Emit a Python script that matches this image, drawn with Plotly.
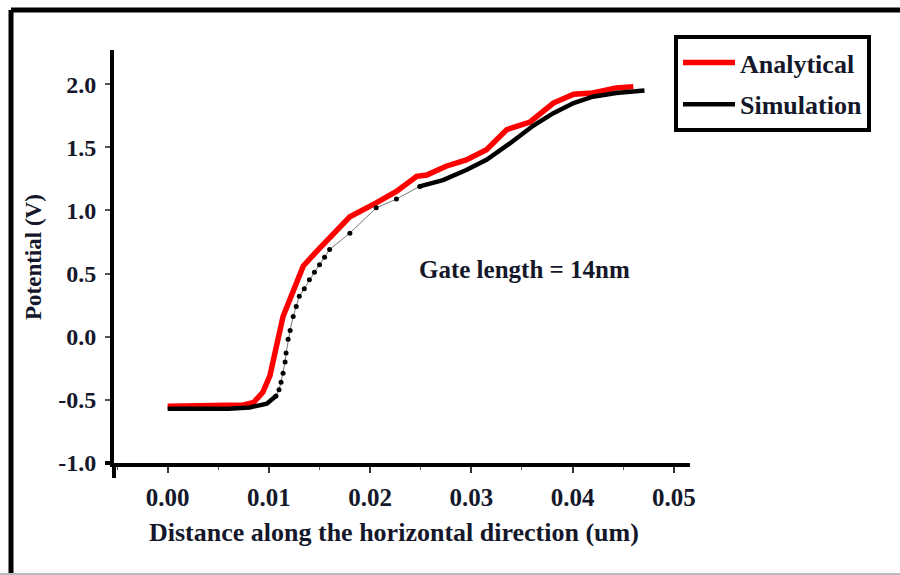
import plotly.graph_objects as go

# ---- data ----
ana_x = [0.0, 0.002, 0.004, 0.006, 0.0075, 0.0085, 0.0094, 0.0101, 0.0107, 0.0114,
         0.0121, 0.0134, 0.0150, 0.0165, 0.0180, 0.0206, 0.0226, 0.0246, 0.0256,
         0.0275, 0.0295, 0.0315, 0.0335, 0.0358, 0.0381, 0.0401, 0.0420, 0.0443, 0.0460]
ana_y = [-0.55, -0.55, -0.55, -0.55, -0.54, -0.52, -0.44, -0.31, -0.10, 0.16,
         0.30, 0.56, 0.70, 0.83, 0.95, 1.06, 1.15, 1.27, 1.28,
         1.35, 1.40, 1.48, 1.64, 1.70, 1.85, 1.92, 1.93, 1.97, 1.98]

sim_x = [0.0, 0.002, 0.004, 0.006, 0.0081, 0.0098, 0.0107, 0.0110, 0.0112, 0.0114,
         0.0116, 0.0117, 0.0119, 0.0121, 0.0124, 0.0127, 0.0130, 0.0135, 0.0140,
         0.0145, 0.0150, 0.0155, 0.0160, 0.0180, 0.0206, 0.0226, 0.0249, 0.0272,
         0.0295, 0.0315, 0.0338, 0.0361, 0.0381, 0.0401, 0.0420, 0.0443, 0.0471]
sim_y = [-0.57, -0.57, -0.57, -0.57, -0.56, -0.53, -0.47, -0.42, -0.36, -0.29,
         -0.20, -0.13, -0.02, 0.05, 0.16, 0.24, 0.32, 0.38, 0.45,
         0.51, 0.57, 0.63, 0.69, 0.82, 1.02, 1.09, 1.19, 1.24,
         1.32, 1.40, 1.53, 1.67, 1.77, 1.85, 1.90, 1.93, 1.95]

x_ticks = [0.00, 0.01, 0.02, 0.03, 0.04, 0.05]
x_tick_text = ["0.00", "0.01", "0.02", "0.03", "0.04", "0.05"]
y_ticks = [-1.0, -0.5, 0.0, 0.5, 1.0, 1.5, 2.0]
y_tick_text = ["-1.0", "-0.5", "0.0", "0.5", "1.0", "1.5", "2.0"]

# split simulation into thick-line part and dotted part
DOT_START, DOT_END = 6, 26
thick_y = [y if (i <= DOT_START or i >= DOT_END) else None for i, y in enumerate(sim_y)]
dot_x = sim_x[DOT_START:DOT_END + 1]
dot_y = sim_y[DOT_START:DOT_END + 1]

SERIF = "Liberation Serif"
TXT = "#15182a"

fig = go.Figure()
fig.add_trace(go.Scatter(x=ana_x, y=ana_y, mode="lines", name="Analytical",
                         line=dict(color="#ff0000", width=5.5), legendgroup="a"))
fig.add_trace(go.Scatter(x=sim_x, y=thick_y, mode="lines", name="Simulation",
                         line=dict(color="#000000", width=4.5), legendgroup="b",
                         connectgaps=False))
fig.add_trace(go.Scatter(x=dot_x, y=dot_y, mode="lines+markers", showlegend=False,
                         line=dict(color="#777777", width=1),
                         marker=dict(color="#000000", size=5)))

fig.update_layout(
    width=900, height=575,
    margin=dict(l=114, r=210, t=50, b=112),
    plot_bgcolor="white", paper_bgcolor="white",
    showlegend=True,
    legend=dict(x=(674 - 114) / 576, y=(463 - 35) / 413, xanchor="left", yanchor="top",
                bordercolor="black", borderwidth=4, bgcolor="white",
                font=dict(family=SERIF, size=26, color=TXT, weight="bold"),
                tracegroupgap=5, itemwidth=52),
    xaxis=dict(range=[-0.0053, 0.0516], tickvals=x_ticks, ticktext=x_tick_text,
               showgrid=False, zeroline=False, showline=True, linecolor="black",
               linewidth=4, ticks="outside", ticklen=6, tickwidth=1.5,
               tickcolor="#333", ticklabelstandoff=3,
               minor=dict(ticks="outside", ticklen=3, tickwidth=1, tickcolor="#555",
                          dtick=0.005),
               tickfont=dict(family=SERIF, size=25, color=TXT, weight="bold")),
    yaxis=dict(range=[-1.0, 2.27], tickvals=y_ticks, ticktext=y_tick_text,
               showgrid=False, zeroline=False, showline=True, linecolor="black",
               linewidth=4, ticks="outside", ticklen=5, tickwidth=1.5,
               tickcolor="#555", ticklabelstandoff=4,
               tickfont=dict(family=SERIF, size=24, color=TXT, weight="bold")),
    annotations=[
        dict(text="Gate length = 14nm", x=0.0353, y=0.533, xref="x", yref="y",
             showarrow=False, font=dict(family=SERIF, size=25, color=TXT, weight="bold")),
        dict(text="Distance along the horizontal direction (um)", x=(394 - 114) / 576,
             y=-69 / 413, xref="paper", yref="paper", showarrow=False,
             xanchor="center", yanchor="middle",
             font=dict(family=SERIF, size=26, color=TXT, weight="bold")),
        dict(text="Potential (V)", x=-81 / 576, y=(463 - 257) / 413, xref="paper",
             yref="paper", showarrow=False, textangle=-90, xanchor="center",
             yanchor="middle",
             font=dict(family=SERIF, size=23, color=TXT, weight="bold")),
    ],
    shapes=[
        # axis extensions past the crossing
        dict(type="line", xref="paper", yref="paper", x0=0, x1=0, y0=0, y1=-15 / 413,
             line=dict(color="black", width=4)),
        dict(type="line", xref="paper", yref="paper", x0=-9 / 576, x1=0, y0=0, y1=0,
             line=dict(color="black", width=4)),
        # outer frame (left, top thick; bottom thin grey)
        dict(type="line", xref="paper", yref="paper", x0=-103 / 576, x1=-103 / 576,
             y0=-0.5, y1=(463 - 10) / 413,
             line=dict(color="black", width=5)),
        dict(type="line", xref="paper", yref="paper", x0=-103 / 576, x1=2.0,
             y0=(463 - 10) / 413, y1=(463 - 10) / 413,
             line=dict(color="black", width=5)),
        dict(type="line", xref="paper", yref="paper", x0=-1, x1=2.0,
             y0=-(574 - 463) / 413, y1=-(574 - 463) / 413,
             line=dict(color="#bbbbbb", width=2)),
    ],
)

fig.write_html("out.html")
